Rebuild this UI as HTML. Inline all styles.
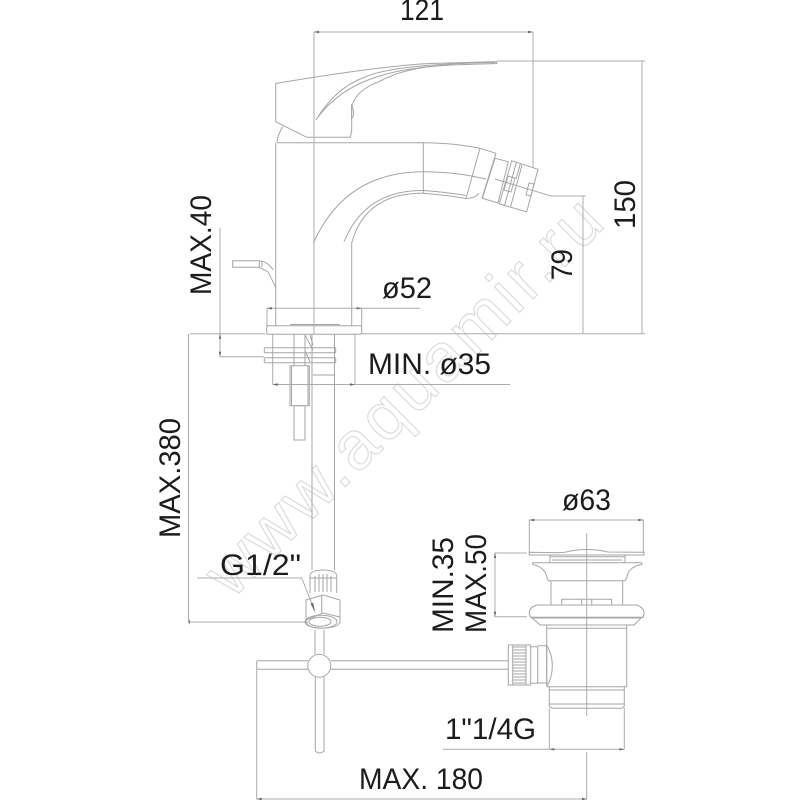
<!DOCTYPE html>
<html><head><meta charset="utf-8"><style>
html,body{margin:0;padding:0;background:#fff}
svg{display:block}
text{font-family:"Liberation Sans","DejaVu Sans",sans-serif;fill:#1a1a1a;font-size:30px}
.wm{font-family:"Liberation Sans",sans-serif;font-size:68px;fill:#fff;stroke:#dcdcdc;stroke-width:1.2}
.l path,.l line,.l rect,.l circle,.l ellipse,.l polyline{fill:none;stroke:#a6a6a6;stroke-width:1}
.d path,.d line{fill:none;stroke:#acacac;stroke-width:1}
.a path{fill:#666;stroke:none}
</style></head><body>
<svg width="800" height="800" viewBox="0 0 800 800" xmlns="http://www.w3.org/2000/svg">
<defs><filter id="b" x="0" y="0" width="100%" height="100%"><feGaussianBlur stdDeviation="0.35"/></filter></defs>
<text class="wm" transform="translate(232,600) rotate(-45)" textLength="530">www.aquamir.ru</text>
<g filter="url(#b)">
<g class="d">
<path d="M314 32H533M533 32V168M314 32V334"/>
<path d="M497 61H645M642 61V333M583 196V333M550 196H586"/>
<path d="M190 333.7H265M362 333.7H645"/>
<path d="M220 228V356.7H264"/>
<path d="M188.5 334V622H308"/>
<path d="M267 308.3H420M267 308.3V326M361.7 308.3V326"/>
<path d="M272.7 334V384.5M355 334V384.5M272.7 384.5H510"/>
<path d="M197 578H301.7L315 611.7"/>
<path d="M529.3 553V520H643.3V553"/>
<path d="M527 553H495V616.7H527"/>
<path d="M256.7 670V799H587M443 749.3H624.3M549.3 708V749.3M624.3 708V749.3"/>
<path d="M586.7 533V716M586.7 752V799"/>
</g>
<g class="a">
<path d="M314 32l5-1.2v2.4zM533 32l-5-1.2v2.4zM267 308.3l5-1.2v2.4zM361.7 308.3l-5-1.2v2.4zM272.7 384.5l5-1.2v2.4zM355 384.5l-5-1.2v2.4zM220 333.7l-1.2 5h2.4zM220 356.7l-1.2-5h2.4zM529.3 520l5-1.2v2.4zM643.3 520l-5-1.2v2.4zM495 553l-1.2 5h2.4zM495 616.7l-1.2-5h2.4zM549.3 749.3l5-1.2v2.4zM624.3 749.3l-5-1.2v2.4zM315 611.7l-4.5-8 2.6-1zM256.7 799l5-1.2v2.4zM587 799l-5-1.2v2.4zM188.5 622l1.2-3v6z"/>
</g>
<g class="l">
<!-- handle -->
<path d="M275.7 83.5Q380 66 430 63.5L496.7 61.7V63.5L450 65Q405 67 379 81.7Q356 90 351.7 106.7V130L350.5 137.3H306.7L275.7 121.7Z"/>
<path d="M316 120Q335 88 365 77Q395 64 495 62.5"/>
<path d="M318 117Q337 92 368 80Q398 68 450 65"/>
<path d="M351.5 105V118.5Q354 116 353.5 112Q353 107 351.5 105Z"/>
<path d="M282.7 126.7Q278 134 277 142.3M277 142.7H350"/>
<!-- body -->
<path d="M275.7 142.7V326M351.7 243V326M350 142.7H423.3Q455 143 480 148.3L496 153.3"/>
<path d="M313.3 243.3Q345 172 423.3 171.7Q450 172 470 175.7"/>
<path d="M344 241.7Q365 190 423.3 190.5Q445 192 466 195.5"/>
<path d="M351.7 243Q365 193 423.3 193.3Q445 195 466 198.5Q476 198 479 193"/>
<path d="M423.3 142.7V193.3"/>
<path d="M480 148.3L466 198.5M496 153.3L482 198M470 175.7L486 179"/>
<!-- nozzle -->
<path d="M495 158.3L508.3 161.7L498 203L482.3 198.3Z"/>
<path d="M511.7 160.7L538 169.3L526.7 211.7L499.3 204Z"/>
<path d="M516.5 162L504.5 205.5M520.5 163.3L516 179M522 165L510.5 207"/>
<path d="M508 176L515 178L511 192L504 190ZM529 183L534 184L531 196L526 195Z"/>
<path d="M495 179L550 195.7" stroke-width=".8"/>
<!-- side lever -->
<path d="M232.7 260.7H259.3V267.3H232.7ZM259.3 260.7Q267 261 273.3 270M259.3 267.3L268 271.7L275.7 287.3M262 261V267"/>
<!-- base flange -->
<rect x="266.7" y="325.7" width="95" height="8.5" rx="1.5"/>
<path d="M290 324.5H340"/>
<rect x="264.3" y="347.7" width="71.4" height="5" rx="1"/>
<rect x="264.3" y="357.7" width="71.4" height="5" rx="1"/>
<path d="M294 334V365.7M305 334V365.7M305 335L313 350M310 335L313 345M305 351L310 362"/>
<rect x="290" y="365.7" width="19.3" height="40"/>
<path d="M291.5 365.7V405.7M308 365.7V405.7"/>
<rect x="294" y="405.7" width="11" height="34.3"/>
<path d="M312 334V570M334.5 334V570M313 375H335"/>
<!-- connector -->
<path d="M310 593V575Q312 570 322 570Q335 570 336.7 575V593"/>
<path d="M315 576V592M319 574V592M323 574V592M327 574V592M331 576V592M310 578H336.7"/>
<path d="M306 600L323 595L340 600V622Q338 628 322 628Q308 628 306 622Z"/>
<path d="M321.7 595V613M306 620L323 613L340 617"/>
<ellipse cx="321" cy="621.7" rx="16" ry="6.5"/>
<ellipse cx="320" cy="621.7" rx="11" ry="4.5"/>
<path d="M315 630V654M324 630V654M315.3 677V751Q319.5 755 324 751V677"/>
<circle cx="319.3" cy="665.7" r="11.5"/>
<path d="M308 660.7H258Q256 660.7 256.7 665V669.3H308M331 660.7H508M331 669.3H508"/>
<!-- drain -->
<path d="M529.3 552.3Q566 553 566 552Q587 547 608 552L644 552.3V555H529.3Z"/>
<path d="M550 555V563M625 555V563M550 556.7H625M552 560H622"/>
<path d="M532.7 562.7H641.7V564.5Q632 566 628 573Q627 578 625 580.7H548.3Q547 577 545 572Q541 566 532.7 564.5Z"/>
<path d="M551 580.7V605M622.7 580.7V605"/>
<path d="M561.7 605V599.3H611.7V605M581.7 599.3V605M591.7 599.3V605"/>
<path d="M537 605H637Q644 608 644 613Q644 617 641 618H532Q529.3 617 529.3 612Q530 607 537 605Z"/>
<path d="M530 617.3H644M532.7 618.3L540 625H634L641 618.3"/>
<path d="M546.7 625V686.7M626.7 625V686.7M546.7 628.3H626.7"/>
<path d="M546.7 686.7H626.7M549.3 686.7V706L552 708.3H622L624.3 706V686.7M549.3 690H624.3M549.3 704H624.3"/>
<path d="M508.3 645H526V685H508.3Z"/>
<path d="M512.7 645V685M526 645H530.7V685H526M530.7 646.7H537.7V683.3H530.7M537.7 645.7H546.7V683H537.7"/>
<path d="M546.7 645Q552.3 655 552.3 665Q552.3 678 546.7 686"/>
<path d="M513 647H526M513 650H526M513 653H526M513 656H526M513 659H526M513 662H526M513 665H526M513 668H526M513 671H526M513 674H526M513 677H526M513 680H526M513 683H526"/>
</g>
<text x="400" y="20" textLength="44" lengthAdjust="spacingAndGlyphs">121</text>
<text transform="translate(211,295) rotate(-90)" textLength="100" lengthAdjust="spacingAndGlyphs">MAX.40</text>
<text transform="translate(635,229) rotate(-90)" textLength="49" lengthAdjust="spacingAndGlyphs">150</text>
<text transform="translate(572,280) rotate(-90)" textLength="31" lengthAdjust="spacingAndGlyphs">79</text>
<text x="382" y="298" textLength="50" lengthAdjust="spacingAndGlyphs">ø52</text>
<text x="368" y="374" textLength="123" lengthAdjust="spacingAndGlyphs">MIN. ø35</text>
<text transform="translate(180,538) rotate(-90)" textLength="120" lengthAdjust="spacingAndGlyphs">MAX.380</text>
<text x="220" y="575" textLength="81" lengthAdjust="spacingAndGlyphs">G1/2"</text>
<text x="562" y="510" textLength="49" lengthAdjust="spacingAndGlyphs">ø63</text>
<text transform="translate(453,633) rotate(-90)" textLength="96" lengthAdjust="spacingAndGlyphs">MIN.35</text>
<text transform="translate(486,633) rotate(-90)" textLength="99" lengthAdjust="spacingAndGlyphs">MAX.50</text>
<text x="445" y="739" textLength="91" lengthAdjust="spacingAndGlyphs">1"1/4G</text>
<text x="359" y="789" textLength="124" lengthAdjust="spacingAndGlyphs">MAX. 180</text>
</g>
</svg>
</body></html>
